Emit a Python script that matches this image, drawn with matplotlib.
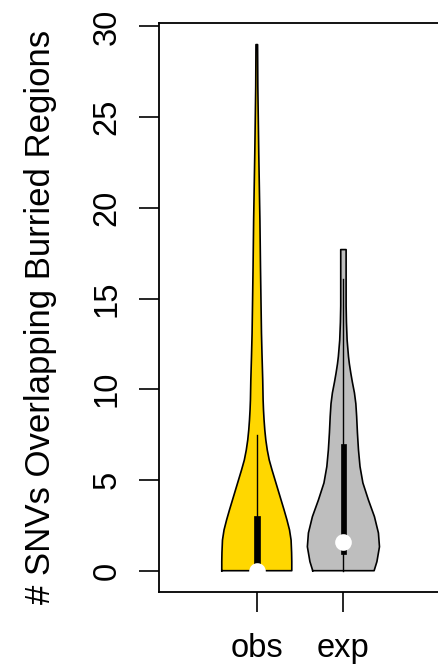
import matplotlib
matplotlib.use('Agg')
import matplotlib.pyplot as plt
from matplotlib.patches import Rectangle
import numpy as np

plt.rcParams['font.family'] = ['Liberation Sans', 'DejaVu Sans']

# gruppi e colori
groups = ['obs', 'exp']
fill_colors = ['#FFD700', '#BEBEBE']

# profilo della densita' (valore, larghezza relativa)
obs_levels = [0.0, 0.5, 1.0, 1.69, 2.25, 2.8, 3.35, 3.9, 4.45, 5.0, 5.55, 6.1,
              6.65, 7.21, 7.76, 8.31, 8.86, 9.41, 10.52, 11.8, 13.1, 14.9,
              16.75, 19.3, 20.4, 23.0, 26.7, 29.0]
obs_width = [1.0, 1.0, 0.995, 0.98, 0.935, 0.862, 0.78, 0.694, 0.608, 0.522,
             0.436, 0.356, 0.3, 0.258, 0.229, 0.208, 0.192, 0.181, 0.17, 0.151,
             0.134, 0.12, 0.106, 0.09, 0.08, 0.057, 0.03, 0.023]

exp_levels = [0.0, 0.5, 1.32, 2.08, 2.98, 3.9, 4.84, 5.74, 6.66, 7.6, 8.5,
              9.2, 9.8, 10.4, 10.9, 11.4, 11.8, 12.7, 13.7, 14.6, 17.7]
exp_width = [0.877, 0.957, 1.03, 1.0, 0.886, 0.714, 0.556, 0.474, 0.43, 0.4,
             0.378, 0.355, 0.315, 0.255, 0.21, 0.17, 0.145, 0.106, 0.086, 0.077,
             0.077]

# statistiche del boxplot: minimo baffo, Q1, mediana, Q3, massimo baffo
obs_stats = [0.0, 0.0, 0.0, 3.0, 7.5]
exp_stats = [0.0, 0.9, 1.6, 7.0, 16.1]

y_ticks = [0, 5, 10, 15, 20, 25, 30]
y_label = '# SNVs Overlapping Burried Regions'


def draw_violin(ax, pos, levels, width, stats, color):
    levels = np.array(levels)
    half = np.array(width) * 0.404
    ax.fill_betweenx(levels, pos - half, pos + half, facecolor=color,
                     edgecolor='none', zorder=2)
    xs = np.concatenate([pos - half, (pos + half)[::-1], [pos - half[0]]])
    ys = np.concatenate([levels, levels[::-1], [levels[0]]])
    ax.plot(xs, ys, color='black', lw=1.2, zorder=3, solid_joinstyle='round')
    lo, q1, med, q3, hi = stats
    ax.plot([pos, pos], [lo, hi], color='black', lw=1.0, zorder=4)
    ax.add_patch(Rectangle((pos - 0.033, q1), 0.066, q3 - q1,
                           facecolor='black', edgecolor='black', lw=0.5, zorder=5))
    ax.plot(pos, med, 'o', color='white', markersize=12, markeredgewidth=0,
            zorder=6, clip_on=False)


def main():
    fig = plt.figure(figsize=(4.39, 6.67), dpi=100)
    ax = fig.add_axes([159.3 / 439, (667 - 591.7) / 667, 281.6 / 439, 568.7 / 667])

    draw_violin(ax, 1, obs_levels, obs_width, obs_stats, fill_colors[0])
    draw_violin(ax, 2, exp_levels, exp_width, exp_stats, fill_colors[1])

    ax.set_xlim(-0.125, 3.125)
    ax.set_ylim(-1.158, 30.19)
    ax.set_xticks([1, 2])
    ax.set_xticklabels(groups)
    ax.set_yticks(y_ticks)
    ax.set_yticklabels([str(t) for t in y_ticks], rotation=90, va='center')
    ax.tick_params(axis='both', length=14.4, width=1.2, labelsize=23.5,
                   direction='out', color='black')
    ax.tick_params(axis='x', pad=15)
    ax.tick_params(axis='y', pad=12)
    for s in ax.spines.values():
        s.set_linewidth(1.3)
        s.set_color('black')

    fig.text(41 / 439, (667 - 316.5) / 667, y_label, rotation=90, fontsize=25,
             ha='center', va='center')

    fig.savefig('out.png', dpi=100)


if __name__ == '__main__':
    main()
